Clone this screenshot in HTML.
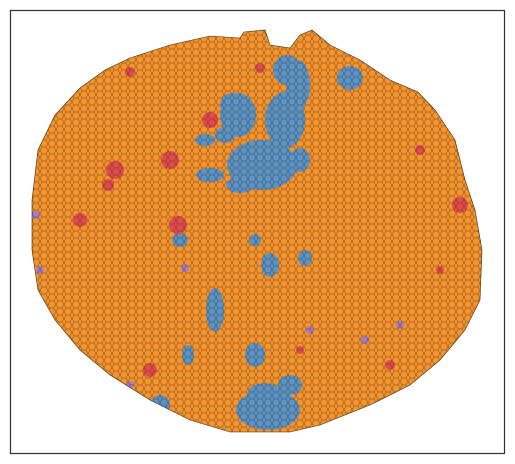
<!DOCTYPE html>
<html><head><meta charset="utf-8"><style>
html,body{margin:0;padding:0;background:#fff;width:515px;height:464px;overflow:hidden}
svg{display:block}
</style></head><body>
<svg id="chart" width="515" height="464" viewBox="0 0 515 464" xmlns="http://www.w3.org/2000/svg">
<defs>
<pattern id="cells" width="8" height="7" patternUnits="userSpaceOnUse">
<path d="M0 3.5 L2.2 0 L5.8 0 L8 3.5 L5.8 7 L2.2 7 Z" fill="none" stroke="#3a2a10" stroke-width="0.5" stroke-opacity="0.75"/>
</pattern>
<clipPath id="blobclip"><path id="clipPath"/></clipPath>
</defs>
<rect x="10.5" y="10.5" width="494" height="443" fill="#fff" stroke="#333" stroke-width="1.2"/>
<g id="map" clip-path="url(#blobclip)"></g>
</svg>
<script>
// outline of the tessellated region
const outlineX=[130,170,210,240,244,265,270,290,300,312,330,360,390,418,435,455,465,475,482,480,465,440,410,370,320,290,230,190,150,110,80,55,38,32,32,38,55,80,105];
const outlineY=[58,45,36,38,32,30,45,48,35,30,45,60,80,92,110,140,180,210,250,300,330,360,385,405,425,432,432,420,400,375,350,320,290,250,200,150,115,88,70];
// blue clusters: centre x, centre y, radius x, radius y
const blueX=[262,238,285,298,232,287,350,215,255,268,160,188,270,305,210,180,255,300,205,240,225,265,290];
const blueY=[165,115,120,85,105,70,78,310,355,410,405,355,265,258,175,240,240,160,140,185,135,395,385];
const blueRX=[35,18,20,12,12,14,13,9,10,32,10,6,9,7,14,8,6,10,10,14,10,18,12];
const blueRY=[25,22,28,25,12,15,12,22,12,20,10,10,12,8,7,7,6,12,6,8,8,12,10];
// red patches
const redX=[115,170,178,80,210,460,420,125,150,260,130,300,390,440,108];
const redY=[170,160,225,220,120,205,150,390,370,68,72,350,365,270,185];
const redR=[9,9,9,7,8,8,5,6,7,5,5,4,5,4,6];
// purple / green spots
const purpX=[36,40,185,365,400,310,130];
const purpY=[215,270,268,340,325,330,385];
const greenX=[50];const greenY=[330];

const NS="http://www.w3.org/2000/svg";
const svg=document.getElementById('chart');
const map=document.getElementById('map');
let d="M"+outlineX.map((x,i)=>x+" "+outlineY[i]).join(" L")+" Z";
document.getElementById('clipPath').setAttribute('d',d);
function mk(tag,attrs){const e=document.createElementNS(NS,tag);for(const k in attrs)e.setAttribute(k,attrs[k]);return e;}
const base=mk('path',{d:d,fill:'#f5932e'});


map.appendChild(base);
blueX.forEach((x,i)=>{
 const e=mk('ellipse',{cx:x,cy:blueY[i],rx:blueRX[i],ry:blueRY[i],fill:'#5b93c7'});
 
 
 map.appendChild(e);
});
redX.forEach((x,i)=>{
 const e=mk('circle',{cx:x,cy:redY[i],r:redR[i],fill:'#e34a4e'});
 
 
 map.appendChild(e);
});
purpX.forEach((x,i)=>{
 const e=mk('circle',{cx:x,cy:purpY[i],r:4,fill:'#a87cc4'});
 
 
 map.appendChild(e);
});
greenX.forEach((x,i)=>{
 const e=mk('circle',{cx:x,cy:greenY[i],r:4,fill:'#6fb35a'});
 
 
 map.appendChild(e);
});
const tex=mk('path',{d:d,fill:'url(#cells)'});


map.appendChild(tex);
const ol=mk('path',{d:d,fill:'none',stroke:'#3a2a10','stroke-width':0.6});


svg.appendChild(ol);
</script>
</body></html>
